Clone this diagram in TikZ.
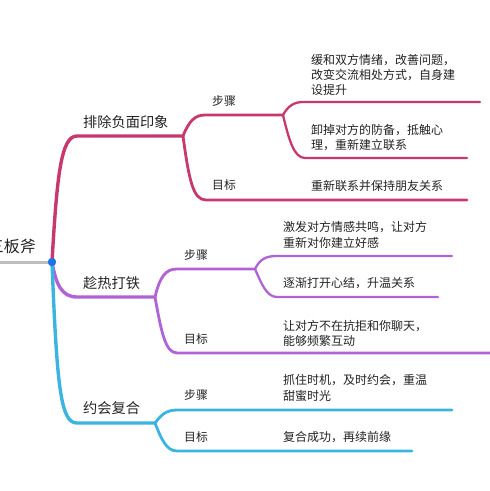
\documentclass[tikz,border=0pt]{standalone}
\usepackage{fontspec}
\setmainfont{Noto Sans CJK SC}
\definecolor{cred}{HTML}{C6386E}
\definecolor{cpur}{HTML}{B062D6}
\definecolor{ccyan}{HTML}{3CB4E2}
\definecolor{cgrey}{HTML}{BDBDBD}
\definecolor{cdot}{HTML}{1F72E8}
\definecolor{ctext}{HTML}{222222}
\tikzset{
  mainline/.style={line width=3.4bp, line cap=round},
  subline/.style={line width=2.8bp, line cap=round},
  leafline/.style={line width=2.3bp, line cap=round},
  mainlbl/.style={anchor=west, inner sep=0pt, text=ctext, font=\fontsize{14.2bp}{16bp}\selectfont},
  sublbl/.style={anchor=west, inner sep=0pt, text=ctext, font=\fontsize{11.8bp}{14bp}\selectfont},
  leaflbl/.style={anchor=west, inner sep=0pt, text=ctext, align=left, font=\fontsize{12bp}{15.2bp}\selectfont},
}
\begin{document}
\begin{tikzpicture}[x=1bp,y=-1bp]
\useasboundingbox (0,0) rectangle (490,491);
% coordinates
\coordinate (root) at (52,262);
\coordinate (rl) at (-2,262);
% branch 1
\coordinate (a0) at (77,136);
\coordinate (a1) at (183,136);
\coordinate (as0) at (205,115);
\coordinate (as1) at (283,115);
\coordinate (ag0) at (206,200);
\coordinate (ag1) at (467,200);
\coordinate (al1a) at (303,102);
\coordinate (al1b) at (480,102);
\coordinate (al2a) at (305,158);
\coordinate (al2b) at (467,158);
% branch 2
\coordinate (b0) at (77,297);
\coordinate (b1) at (155,297);
\coordinate (bs0) at (177,269);
\coordinate (bs1) at (255,269);
\coordinate (bg0) at (177,353);
\coordinate (bg1) at (492,353);
\coordinate (bl1a) at (277,256);
\coordinate (bl1b) at (452,256);
\coordinate (bl2a) at (277,297);
\coordinate (bl2b) at (438,297);
% branch 3
\coordinate (c0) at (77,423);
\coordinate (c1) at (155,423);
\coordinate (cs0) at (177,410);
\coordinate (cs1) at (452,410);
\coordinate (cg0) at (177,451);
\coordinate (cg1) at (412,451);

% grey root line
\draw[cgrey, line width=3bp] (rl) -- (root);
\node[anchor=east, inner sep=0pt, text=ctext, font=\fontsize{16bp}{18bp}\selectfont] (rootlbl) at (36,246.5) {三板斧};

% branch 1 (red)
\draw[cred, mainline] (root) .. controls (57,175) and (61,136) .. (a0) -- (a1);
\draw[cred, subline] (a1) .. controls (189,121) and (195,115) .. (as0) -- (as1);
\draw[cred, subline] (a1) .. controls (189,180) and (193,200) .. (ag0) -- (ag1);
\draw[cred, leafline] (as1) .. controls (288,106) and (294,102) .. (al1a) -- (al1b);
\draw[cred, leafline] (as1) .. controls (289,140) and (294,158) .. (al2a) -- (al2b);
\node[mainlbl] (t1) at (83,122) {排除负面印象};
\node[sublbl] (t1s) at (212,101) {步骤};
\node[sublbl] (t1g) at (212,185) {目标};
\node[leaflbl] (t1l1) at (311,75) {缓和双方情绪，改善问题，\\改变交流相处方式，自身建\\设提升};
\node[leaflbl] (t1l2) at (311,137.5) {卸掉对方的防备，抵触心\\理，重新建立联系};
\node[leaflbl] (t1l3) at (311,186) {重新联系并保持朋友关系};

% branch 2 (purple)
\draw[cpur, mainline] (root) .. controls (56,285) and (62,297) .. (b0) -- (b1);
\draw[cpur, subline] (b1) .. controls (160,276) and (166,269) .. (bs0) -- (bs1);
\draw[cpur, subline] (b1) .. controls (161,330) and (165,353) .. (bg0) -- (bg1);
\draw[cpur, leafline] (bs1) .. controls (260,259) and (266,256) .. (bl1a) -- (bl1b);
\draw[cpur, leafline] (bs1) .. controls (262,285) and (267,297) .. (bl2a) -- (bl2b);
\node[mainlbl] (t2) at (83,283) {趁热打铁};
\node[sublbl] (t2s) at (184,255) {步骤};
\node[sublbl] (t2g) at (184,339) {目标};
\node[leaflbl] (t2l1) at (283,235) {激发对方情感共鸣，让对方\\重新对你建立好感};
\node[leaflbl] (t2l2) at (283,283) {逐渐打开心结，升温关系};
\node[leaflbl] (t2l3) at (283,333.5) {让对方不在抗拒和你聊天，\\能够频繁互动};

% branch 3 (cyan)
\draw[ccyan, mainline] (root) .. controls (57,390) and (61,423) .. (c0) -- (c1);
\draw[ccyan, subline] (c1) .. controls (161,415) and (166,410) .. (cs0) -- (cs1);
\draw[ccyan, subline] (c1) .. controls (161,438) and (166,451) .. (cg0) -- (cg1);
\node[mainlbl] (t3) at (83,408) {约会复合};
\node[sublbl] (t3s) at (184,395) {步骤};
\node[sublbl] (t3g) at (184,437) {目标};
\node[leaflbl] (t3l1) at (283,388) {抓住时机，及时约会，重温\\甜蜜时光};
\node[leaflbl] (t3l2) at (283,437) {复合成功，再续前缘};

% root dot
\fill[cdot] (root) circle (4.2bp);
\end{tikzpicture}
\end{document}
